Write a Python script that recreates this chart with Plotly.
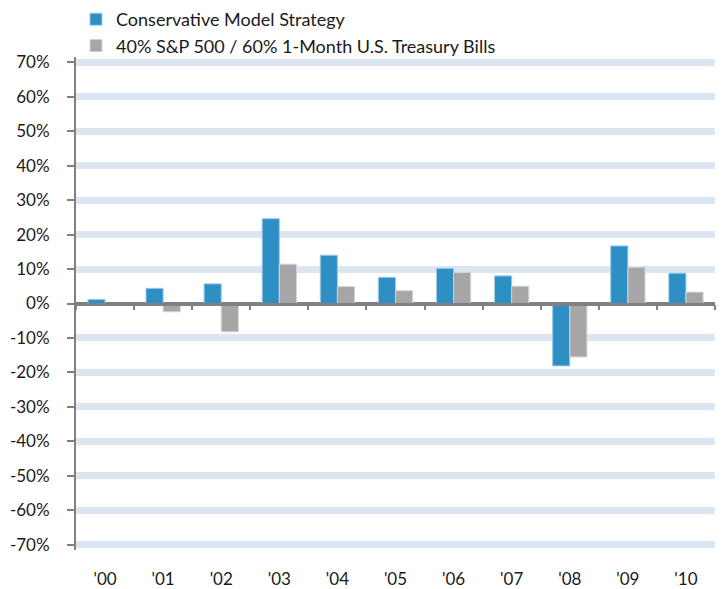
import plotly.graph_objects as go

years = ["'00", "'01", "'02", "'03", "'04", "'05", "'06", "'07", "'08", "'09", "'10"]
conservative = [1.2, 4.4, 5.7, 24.6, 14.0, 7.6, 10.2, 8.0, -18.1, 16.7, 8.8]
benchmark = [0.0, -2.4, -8.2, 11.4, 4.9, 3.7, 9.0, 5.0, -15.5, 10.5, 3.3]
y_tick_vals = [70, 60, 50, 40, 30, 20, 10, 0, -10, -20, -30, -40, -50, -60, -70]
y_tick_labels = ["70%", "60%", "50%", "40%", "30%", "20%", "10%", "0%", "-10%",
                 "-20%", "-30%", "-40%", "-50%", "-60%", "-70%"]
series_names = ["Conservative Model Strategy", "40% S&P 500 / 60% 1-Month U.S. Treasury Bills"]

FONT = "Lato"
TXT = "#1a1a1a"
AXIS = "#808080"

fig = go.Figure()
fig.add_trace(go.Bar(x=years, y=conservative, name=series_names[0],
                     marker=dict(color="#2e8fc5", line=dict(color="#9ccbe8", width=1))))
fig.add_trace(go.Bar(x=years, y=benchmark, name=series_names[1],
                     marker=dict(color="#a6a6a6", line=dict(color="#d4d4d4", width=1))))
# invisible helper so the bottom label axis renders
fig.add_trace(go.Scatter(x=[0], y=[None], xaxis="x2", showlegend=False, hoverinfo="skip"))

# page body has an 8px margin: figure is 720x581 placed at (8, 8)
fig.update_layout(
    width=720, height=581,
    margin=dict(l=68, r=13, t=49, b=39, autoexpand=False),
    paper_bgcolor="white", plot_bgcolor="white",
    font=dict(family=FONT, size=17, color=TXT),
    barmode="group", bargap=0.41, bargroupgap=0,
    legend=dict(xref="container", yref="paper", x=68/720, y=1.1136,
                xanchor="left", yanchor="top", bgcolor="rgba(0,0,0,0)",
                font=dict(family=FONT, size=18, color=TXT), tracegroupgap=4),
    xaxis=dict(type="category", anchor="free", position=0.5,
               ticks="outside", tickson="boundaries", ticklen=5, tickwidth=2,
               tickcolor=AXIS, showticklabels=False, showline=True,
               linecolor=AXIS, linewidth=2.5, showgrid=False, zeroline=False),
    xaxis2=dict(overlaying="x", anchor="y", side="bottom", type="linear",
                range=[-0.5, len(years) - 0.5], tickmode="array",
                tickvals=list(range(len(years))), ticktext=years, tickangle=0,
                ticks="", showline=False, showgrid=False, zeroline=False,
                ticklabelstandoff=17, tickfont=dict(family=FONT, size=17, color=TXT)),
    yaxis=dict(range=[-71.5, 71.5], tickmode="array", tickvals=y_tick_vals,
               ticktext=y_tick_labels, ticks="outside", ticklen=7, tickwidth=2,
               tickcolor=AXIS, showline=True, linecolor=AXIS, linewidth=2,
               showgrid=True, gridcolor="#dce6f2", gridwidth=7,
               zeroline=True, zerolinecolor=AXIS, zerolinewidth=2.5,
               ticklabelstandoff=14, tickfont=dict(family=FONT, size=17, color=TXT)),
)

fig.write_html("out.html")
